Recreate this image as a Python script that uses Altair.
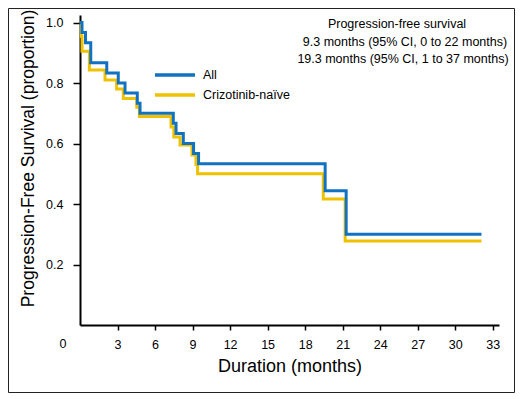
import altair as alt
import pandas as pd

# ---- data ----
series_names = ["All", "Crizotinib-naïve"]
all_time = [0, 0.16, 0.44, 0.86, 2.14, 3.06, 3.6, 4.58, 4.8, 7.46, 7.68, 8.26, 9.08, 9.48, 19.6, 21.28, 32.1]
all_surv = [1.0, 0.967, 0.933, 0.867, 0.833, 0.80, 0.767, 0.733, 0.70, 0.667, 0.633, 0.60, 0.567, 0.533, 0.444, 0.30, 0.30]
naive_time = [0, 0.1, 0.16, 0.75, 2.0, 2.93, 3.46, 4.54, 4.75, 7.28, 7.5, 8.0, 8.95, 9.27, 9.4, 19.45, 21.2, 32.1]
naive_surv = [1.0, 0.955, 0.905, 0.843, 0.81, 0.78, 0.749, 0.72, 0.689, 0.655, 0.622, 0.595, 0.562, 0.531, 0.50, 0.417, 0.278, 0.278]
x_ticks = [3, 6, 9, 12, 15, 18, 21, 24, 27, 30, 33]
y_ticks = [0.2, 0.4, 0.6, 0.8, 1.0]
annot_lines = [
    "Progression-free survival",
    "9.3 months (95% CI, 0 to 22 months)",
    "19.3 months (95% CI, 1 to 37 months)",
]
colors = ["#1272C2", "#EEC200"]

df = pd.concat([
    pd.DataFrame({"time": naive_time, "surv": naive_surv, "series": series_names[1], "ord": 0}),
    pd.DataFrame({"time": all_time, "surv": all_surv, "series": series_names[0], "ord": 1}),
], ignore_index=True)

W, H = 419, 310
FONT = "Liberation Sans"

xs = alt.Scale(domain=[0, 33.5], nice=False, zero=False)
ys = alt.Scale(domain=[0, 1.025], nice=False, zero=False)
cs = alt.Scale(domain=series_names, range=colors)

one = pd.DataFrame({"t": [0]})

frame = alt.Chart(one).mark_rect(filled=False, stroke="#222", strokeWidth=1).encode(
    x=alt.value(-71.5), x2=alt.value(434.5), y=alt.value(-6.5), y2=alt.value(377.5)
)

lines = alt.Chart(df).mark_line(interpolate="step-after", strokeWidth=3).encode(
    x=alt.X("time:Q", scale=xs,
            axis=alt.Axis(values=x_ticks, title="Duration (months)", tickSize=5,
                          labelPadding=8, titlePadding=7, labelFontSize=12.5,
                          titleFontSize=18)),
    y=alt.Y("surv:Q", scale=ys,
            axis=alt.Axis(values=y_ticks, format=".1f",
                          title="Progression-Free Survival (proportion)",
                          tickSize=7, labelPadding=10, titlePadding=8,
                          labelFontSize=12.5, titleFontSize=17.5, titleY=143)),
    color=alt.Color("series:N", scale=cs, legend=None),
    order=alt.Order("ord:Q"),
)

zero_label = alt.Chart(one).mark_text(fontSize=12.5, baseline="top", align="center", dx=-17).encode(
    x=alt.X("t:Q", scale=xs), y=alt.value(H + 13), text=alt.value("0")
)

legend_layers = []
for i, (name, col) in enumerate(zip(series_names, colors)):
    yy = 60 + 20 * i
    legend_layers.append(
        alt.Chart(one).mark_rule(strokeWidth=3.5, color=col).encode(
            x=alt.value(75), x2=alt.value(115), y=alt.value(yy)
        )
    )
    legend_layers.append(
        alt.Chart(one).mark_text(fontSize=12.5, align="left", baseline="middle").encode(
            x=alt.value(123), y=alt.value(yy), text=alt.value(name)
        )
    )

annot_x = [317, 325, 323]
annot_y = [13, 31, 47.5]
annot_layers = [
    alt.Chart(one).mark_text(fontSize=12.5, align="center", baseline="alphabetic").encode(
        x=alt.value(ax), y=alt.value(ay), text=alt.value(txt)
    )
    for txt, ax, ay in zip(annot_lines, annot_x, annot_y)
]

chart = alt.layer(frame, lines, zero_label, *legend_layers, *annot_layers).properties(
    width=W, height=H,
    padding={"left": 72, "top": 7, "right": 17, "bottom": 69},
    autosize=alt.AutoSizeParams(type="none"),
).configure_view(stroke=None).configure_axis(
    grid=False, domainColor="black", domainWidth=2, tickColor="black", tickWidth=1.5,
    labelColor="black", titleColor="black", labelFont=FONT, titleFont=FONT,
    titleFontWeight="normal",
).configure_text(font=FONT, color="black")

chart.save("out.html", embed_options={"renderer": "svg", "actions": False})
